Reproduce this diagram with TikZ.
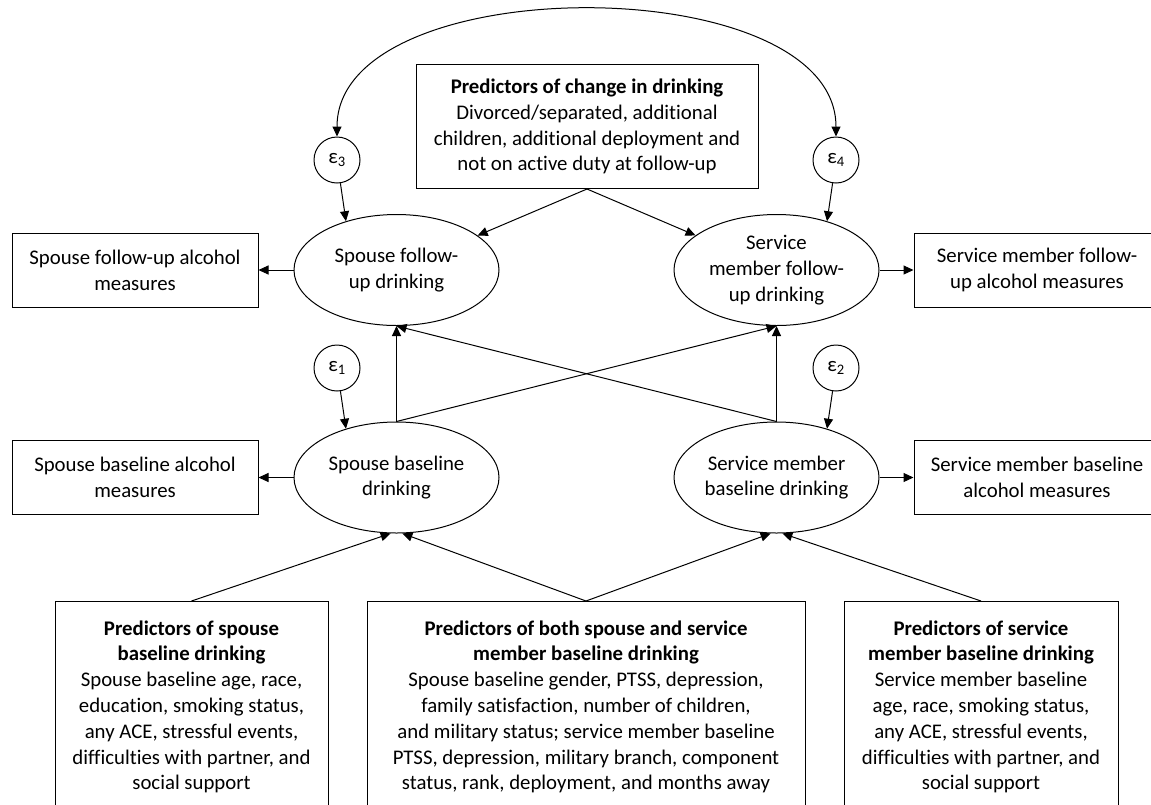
\documentclass[tikz,border=0pt]{standalone}
\usepackage{fontspec}
\setmainfont{Carlito}[Ligatures=NoCommon]
\usetikzlibrary{arrows.meta,shapes.geometric}
\tikzset{
  base/.style={font=\fontsize{20.8}{25.8}\selectfont, align=center, inner sep=0pt},
  sqbox/.style={base, draw, line width=1pt, rectangle},
  oval/.style={base, draw, line width=1pt, ellipse, minimum width=205pt, minimum height=111pt},
  errc/.style={base, draw, line width=1pt, circle, minimum size=46pt},
  predbox/.style={sqbox, anchor=north, inner ysep=19pt, text depth=215pt},
  conn/.style={line width=1pt, -{Triangle[length=10pt,width=9pt]}},
  dconn/.style={line width=1pt, {Triangle[length=10pt,width=9pt]}-{Triangle[length=10pt,width=9pt]}}
}
\begin{document}
\begin{tikzpicture}[x=1pt,y=-1pt]
\useasboundingbox (0,0) rectangle (1151,804);
% top predictor box
\node[sqbox, minimum width=342pt, minimum height=124pt] (chg) at (587,126.5)
  {\textbf{Predictors of change in drinking}\\Divorced/separated, additional\\children, additional deployment and\\not on active duty at follow-up};
% ellipses
\node[oval] (sf) at (396.5,270) {Spouse follow-\\up drinking};
\node[oval] (mf) at (776.5,270) {Service\\member follow-\\up drinking};
\node[oval] (sb) at (396.5,477.5) {Spouse baseline\\drinking};
\node[oval] (mb) at (776.5,477.5) {Service member\\baseline drinking};
% measurement boxes
\node[sqbox, minimum width=246pt, minimum height=74pt] (sfa) at (135,270) {Spouse follow-up alcohol\\measures};
\node[sqbox, minimum width=246pt, minimum height=74pt] (mfa) at (1037,270) {Service member follow-\\up alcohol measures};
\node[sqbox, minimum width=246pt, minimum height=74pt] (sba) at (135,477.5) {Spouse baseline alcohol\\measures};
\node[sqbox, minimum width=246pt, minimum height=74pt] (mba) at (1037,477.5) {Service member baseline\\alcohol measures};
% error terms
\node[errc] (e3) at (337,160) {ε\textsubscript{3}};
\node[errc] (e4) at (836,160) {ε\textsubscript{4}};
\node[errc] (e1) at (337,368) {ε\textsubscript{1}};
\node[errc] (e2) at (836,368) {ε\textsubscript{2}};
% bottom predictor boxes
\node[predbox, minimum width=273pt] (ps) at (191.5,601)
  {\textbf{Predictors of spouse}\\\textbf{baseline drinking}\\Spouse baseline age, race,\\education, smoking status,\\any ACE, stressful events,\\difficulties with partner, and\\social support};
\node[predbox, minimum width=438pt] (pb) at (586,601)
  {\textbf{Predictors of both spouse and service}\\\textbf{member baseline drinking}\\Spouse baseline gender, PTSS, depression,\\family satisfaction, number of children,\\and military status; service member baseline\\PTSS, depression, military branch, component\\status, rank, deployment, and months away};
\node[predbox, minimum width=274pt] (pm) at (981,601)
  {\textbf{Predictors of service}\\\textbf{member baseline drinking}\\Service member baseline\\age, race, smoking status,\\any ACE, stressful events,\\difficulties with partner, and\\social support};
% connectors
\draw[dconn] (e3.north) .. controls (337,-32) and (836,-32) .. (e4.north);
\draw[conn] (e3) -- (sf.136);
\draw[conn] (e4) -- (mf.44);
\draw[conn] (e1) -- (sb.136);
\draw[conn] (e2) -- (mb.44);
\draw[conn] (chg.south) -- (sf);
\draw[conn] (chg.south) -- (mf);
\draw[conn] (sf.west) -- (sfa.east);
\draw[conn] (sb.west) -- (sba.east);
\draw[conn] (mf.east) -- (mfa.west);
\draw[conn] (mb.east) -- (mba.west);
\draw[conn] (sb.north) -- (sf.south);
\draw[conn] (mb.north) -- (mf.south);
\draw[conn] (sb.north) -- (mf.south);
\draw[conn] (mb.north) -- (sf.south);
\draw[conn] (ps.north) -- (sb.-96);
\draw[conn] (pb.north) -- (sb.-84);
\draw[conn] (pb.north) -- (mb.-96);
\draw[conn] (pm.north) -- (mb.-84);
\end{tikzpicture}
\end{document}
